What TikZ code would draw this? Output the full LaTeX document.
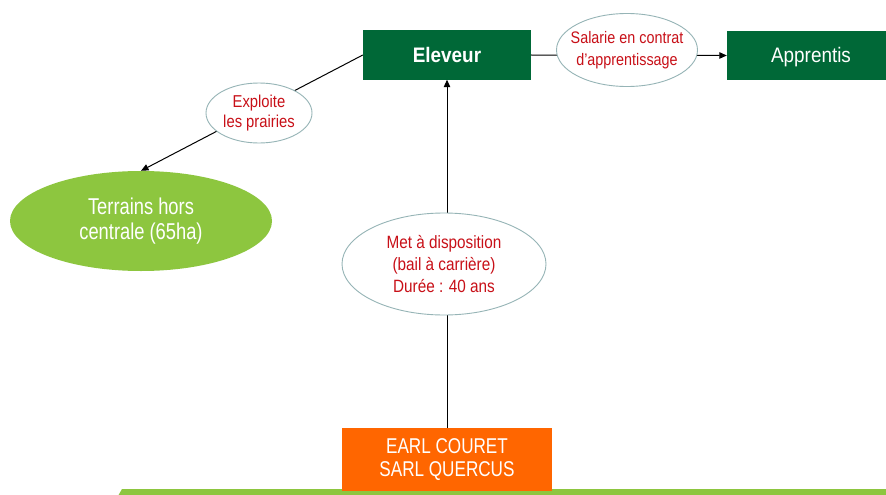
\documentclass[tikz,border=0pt]{standalone}
\usepackage{fontspec}
\setmainfont{Liberation Sans}
% slightly condensed cuts of the same face
\newfontfamily\boxfont[FakeStretch=0.9]{Liberation Sans}
\newfontfamily\tallfont[FakeStretch=0.8]{Liberation Sans}
\newfontfamily\relfont[FakeStretch=0.86]{Liberation Sans}
\usetikzlibrary{shapes.geometric,arrows.meta}

\definecolor{darkgreen}{RGB}{0,104,55}
\definecolor{leafgreen}{RGB}{141,198,63}
\definecolor{brandorange}{RGB}{255,102,0}
\definecolor{labelred}{RGB}{200,16,24}
\definecolor{rimgray}{RGB}{150,180,182}

\tikzset{
  greenbox/.style={rectangle, fill=darkgreen, text=white, inner sep=0pt,
    minimum height=49pt, text height=15pt, text depth=0pt},
  relation/.style={ellipse, draw=rimgray, line width=0.9pt, fill=white,
    text=labelred, inner xsep=-30pt, inner ysep=-15pt, align=center},
  link/.style={draw=black, line width=1pt},
  linkarrow/.style={link, -{Triangle[length=7.5pt,width=6.5pt]}},
}

\begin{document}
\begin{tikzpicture}[x=1pt,y=-1pt]
\useasboundingbox (0,0) rectangle (886,495);
\fill[white] (0,0) rectangle (886,495);

% bottom band
\fill[leafgreen] (118,496) -- (122,489) -- (890,489) -- (890,496) -- cycle;

% main boxes
\node[greenbox, minimum width=168pt, font=\boxfont\bfseries\fontsize{21}{24}\selectfont]
  (eleveur) at (447,55) {Eleveur};
\node[greenbox, minimum width=168pt, font=\boxfont\fontsize{21}{24}\selectfont]
  (apprentis) at (811,55.5) {Apprentis};
\node[ellipse, fill=leafgreen, text=white, inner sep=0pt,
  minimum width=262pt, minimum height=100pt, align=center,
  font=\tallfont\fontsize{22.9}{25}\selectfont]
  (terrains) at (141,221) {Terrains hors\\centrale (65ha)};
\node[rectangle, fill=brandorange, text=white, inner sep=0pt,
  minimum width=210pt, minimum height=63pt, align=center,
  font=\tallfont\fontsize{21.4}{23.5}\selectfont]
  (earl) at (447,459.5) {EARL COURET\\SARL QUERCUS};

% connectors
\draw[linkarrow] (eleveur.west) -- (terrains.north);
\draw[linkarrow] (eleveur.east) -- (apprentis.west);
\draw[linkarrow] (earl.north) -- (eleveur.south);

% relation labels sitting on the connectors
\node[relation, minimum width=106pt, minimum height=60pt,
  font=\relfont\fontsize{17.2}{20}\selectfont]
  (exploite) at (259,113) {Exploite\\les prairies};
\node[relation, minimum width=141pt, minimum height=73pt,
  font=\relfont\fontsize{16.7}{22.5}\selectfont]
  (salarie) at (627,50) {Salarie en contrat\\d’apprentissage};
\node[relation, minimum width=204pt, minimum height=102pt,
  font=\relfont\fontsize{17.8}{22}\selectfont]
  (met) at (444,264) {Met à disposition\\(bail à carrière)\\Durée : 40 ans};
\end{tikzpicture}
\end{document}
